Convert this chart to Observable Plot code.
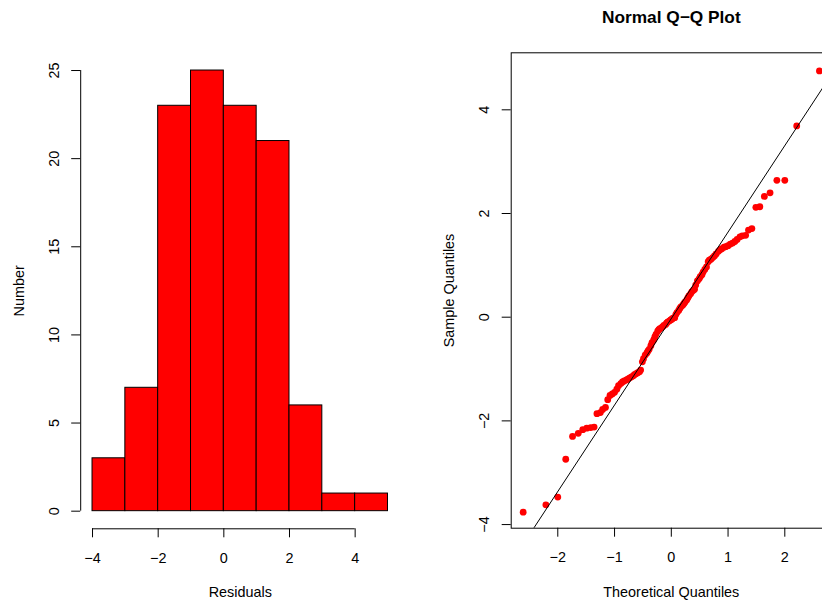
<!DOCTYPE html>
<html><head><meta charset="utf-8">
<script src="https://cdn.jsdelivr.net/npm/d3@7"></script>
<script src="https://cdn.jsdelivr.net/npm/@observablehq/plot@0.6"></script>
<style>
html,body{margin:0;padding:0;background:#fff;}
#wrap{position:relative;width:822px;height:604px;overflow:hidden;background:#fff;}
#wrap svg{position:absolute;top:0;}
</style></head><body><div id="wrap"></div>
<script>
// ---- Histogram of residuals ----
const binLower = [-4, -3, -2, -1, 0, 1, 2, 3, 4];
const binUpper = [-3, -2, -1, 0, 1, 2, 3, 4, 5];
const binCounts = [3, 7, 23, 25, 23, 21, 6, 1, 1];
const histXTicks = [-4, -2, 0, 2, 4];
const histYTicks = [0, 5, 10, 15, 20, 25];
const histXLabel = "Residuals";
const histYLabel = "Number";

// ---- Normal Q-Q plot ----
const theoretical = [-2.61,-2.21,-2.00,-1.86,-1.74,-1.64,-1.56,-1.49,-1.42,-1.36,-1.31,-1.25,-1.21,-1.16,-1.12,-1.08,-1.04,-1.00,-0.96,-0.93,-0.89,-0.86,-0.83,-0.79,-0.76,-0.73,-0.70,-0.67,-0.65,-0.62,-0.59,-0.56,-0.54,-0.51,-0.49,-0.46,-0.43,-0.41,-0.39,-0.36,-0.34,-0.31,-0.29,-0.27,-0.24,-0.22,-0.20,-0.17,-0.15,-0.13,-0.10,-0.08,-0.06,-0.03,-0.01,
  0.01,0.03,0.06,0.08,0.10,0.13,0.15,0.17,0.20,0.22,0.24,0.27,0.29,0.31,0.34,0.36,0.39,0.41,0.43,0.46,0.49,0.51,0.54,0.56,0.59,0.62,0.65,0.67,0.70,0.73,0.76,0.79,0.83,0.86,0.89,0.93,0.96,1.00,1.04,1.08,1.12,1.16,1.21,1.25,1.31,1.36,1.42,1.49,1.56,1.64,1.74,1.86,2.00,2.21,2.61];
const sample = [-3.76,-3.62,-3.47,-2.74,-2.30,-2.24,-2.17,-2.14,-2.13,-2.12,
  -1.86,-1.84,-1.78,-1.74,-1.59,-1.51,-1.48,-1.45,-1.39,-1.32,-1.28,-1.25,-1.23,-1.21,-1.19,-1.17,-1.15,-1.13,-1.11,-1.09,-1.07,-1.05,-1.02,
  -0.86,-0.80,-0.73,-0.69,-0.65,-0.62,-0.55,-0.49,-0.44,-0.38,-0.33,-0.27,-0.24,-0.22,-0.20,-0.18,-0.16,-0.14,-0.11,-0.09,-0.07,-0.05,-0.04,-0.02,-0.01,
  0.05,0.09,0.13,0.17,0.20,0.23,0.26,0.29,0.33,0.37,0.41,0.45,0.49,0.52,0.54,0.62,0.70,0.74,0.78,0.82,0.87,0.92,0.97,
  1.07,1.10,1.12,1.15,1.18,1.22,1.27,1.30,1.32,1.35,1.36,1.38,1.41,1.43,1.46,1.50,1.55,1.57,1.58,1.68,1.71,
  2.12,2.13,2.33,2.40,2.64,2.64,3.69,4.75];
const qqXTicks = [-2, -1, 0, 1, 2];
const qqYTicks = [-4, -2, 0, 2, 4];
const qqLineIntercept = -0.026;
const qqLineSlope = 1.668;
const qqTitle = "Normal Q\u2212Q Plot";
const qqXLabel = "Theoretical Quantiles";
const qqYLabel = "Sample Quantiles";

// ---- build tables ----
const bins = binCounts.map((c, i) => ({lo: binLower[i], hi: binUpper[i], count: c}));
const qq = sample.map((s, i) => ({x: theoretical[i], y: s}));

const FONT = "'Liberation Sans', Arial, Helvetica, sans-serif";
const fmt = d => d < 0 ? "\u2212" + Math.abs(d) : String(d);
const wrap = document.getElementById("wrap");

// Left panel
const histXDomain = [-4.36, 5.36];
const histYDomain = [-1, 26];
const left = Plot.plot({
  width: 411, height: 604,
  marginLeft: 80.2, marginRight: 11.7, marginTop: 52.4, marginBottom: 75.7,
  style: {fontFamily: FONT, fontSize: "14.4px", background: "transparent", color: "black"},
  x: {domain: histXDomain, axis: null},
  y: {domain: histYDomain, axis: null},
  marks: [
    Plot.rect(bins, {x1: "lo", x2: "hi", y1: 0, y2: "count", fill: "#ff0000", stroke: "black", strokeWidth: 1}),
    Plot.ruleX([histXDomain[0]], {y1: histYTicks[0], y2: histYTicks[histYTicks.length - 1], stroke: "black"}),
    Plot.ruleY([histYDomain[0]], {x1: histXTicks[0], x2: histXTicks[histXTicks.length - 1], stroke: "black"}),
    Plot.axisX({ticks: histXTicks, tickSize: 9, tickPadding: 14.5, tickFormat: fmt, label: null, anchor: "bottom", stroke: "black"}),
    Plot.axisY({ticks: histYTicks, tickSize: 9, tickFormat: () => "", label: null, anchor: "left", stroke: "black"}),
    Plot.text(histYTicks, {y: d => d, text: fmt, frameAnchor: "left", textAnchor: "middle", lineAnchor: "middle", dx: -26, rotate: -90, fill: "black"}),
    Plot.text([histXLabel], {frameAnchor: "bottom", textAnchor: "middle", lineAnchor: "middle", dy: 63.2, fill: "black"}),
    Plot.text([histYLabel], {frameAnchor: "left", textAnchor: "middle", lineAnchor: "middle", dx: -61.8, rotate: -90, fill: "black"})
  ]
});
left.style.left = "0px";
wrap.appendChild(left);

// Right panel
const qqXDomain = [-2.821, 2.821];
const qqYDomain = [-4.07, 5.10];
const qqLine = qqXDomain.map(x => ({x, y: qqLineIntercept + qqLineSlope * x}));
const right = Plot.plot({
  width: 430, height: 604,
  marginLeft: 99.7, marginRight: 10.1, marginTop: 52.3, marginBottom: 76.3,
  style: {fontFamily: FONT, fontSize: "14.4px", background: "transparent", color: "black"},
  x: {domain: qqXDomain, axis: null},
  y: {domain: qqYDomain, axis: null},
  marks: [
    Plot.dot(qq, {x: "x", y: "y", r: 3.4, fill: "#ff0000"}),
    Plot.line(qqLine, {x: "x", y: "y", stroke: "black", strokeWidth: 1, clip: true}),
    Plot.frame({stroke: "black"}),
    Plot.axisX({ticks: qqXTicks, tickSize: 9, tickPadding: 14.5, tickFormat: fmt, label: null, anchor: "bottom", stroke: "black"}),
    Plot.axisY({ticks: qqYTicks, tickSize: 9, tickFormat: () => "", label: null, anchor: "left", stroke: "black"}),
    Plot.text(qqYTicks, {y: d => d, text: fmt, frameAnchor: "left", textAnchor: "middle", lineAnchor: "middle", dx: -26.5, rotate: -90, fill: "black"}),
    Plot.text([qqTitle], {frameAnchor: "top", textAnchor: "middle", lineAnchor: "middle", dy: -35.5, fontWeight: "bold", fontSize: 17.3, fill: "black"}),
    Plot.text([qqXLabel], {frameAnchor: "bottom", textAnchor: "middle", lineAnchor: "middle", dy: 63.8, fill: "black"}),
    Plot.text([qqYLabel], {frameAnchor: "left", textAnchor: "middle", lineAnchor: "middle", dx: -62, rotate: -90, fill: "black"})
  ]
});
right.style.left = "411px";
wrap.appendChild(right);
</script>
</body></html>
